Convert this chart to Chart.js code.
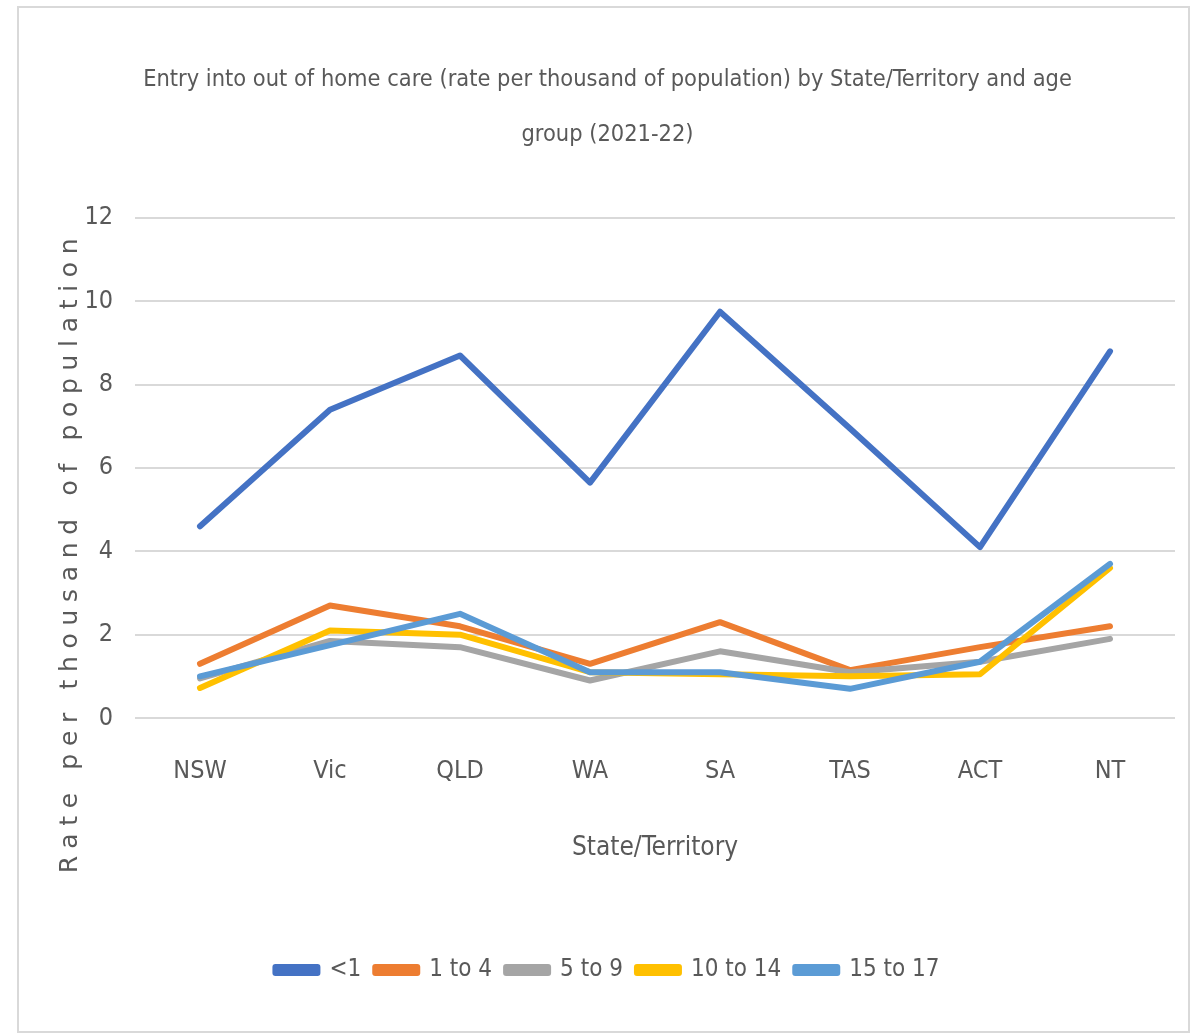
<!DOCTYPE html>
<html>
<head>
<meta charset="utf-8">
<script src="https://cdn.jsdelivr.net/npm/chart.js@4.4.1/dist/chart.umd.min.js"></script>
<style>
    html, body { margin: 0; padding: 0; background: #ffffff; }
    #wrap { width: 1191px; height: 1034px; }
</style>
</head>
<body>
<div id="wrap"><canvas id="chart" width="1191" height="1034"></canvas></div>
<script>
const states = [ 'NSW', 'Vic', 'QLD', 'WA', 'SA', 'TAS', 'ACT', 'NT' ];
const under1 = [ 4.6, 7.4, 8.7, 5.65, 9.75, 6.95, 4.1, 8.8 ];
const age1to4 = [ 1.3, 2.7, 2.2, 1.3, 2.3, 1.15, 1.7, 2.2 ];
const age5to9 = [ 0.95, 1.85, 1.7, 0.9, 1.6, 1.1, 1.35, 1.9 ];
const age10to14 = [ 0.72, 2.1, 2.0, 1.1, 1.05, 1.0, 1.05, 3.6 ];
const age15to17 = [ 1.0, 1.75, 2.5, 1.1, 1.1, 0.7, 1.35, 3.7 ];
const yTicks = [ 0, 2, 4, 6, 8, 10, 12 ];

const textColor = '#595959';
const narrow = "'Liberation Sans Narrow', 'DejaVu Sans Condensed', 'Liberation Sans', sans-serif";

// frame round the chart and the rotated y axis title
const decor = {
    id: 'decor',
    beforeDraw( chart )
    {
        const c = chart.ctx;
        c.save();
        c.strokeStyle = '#d9d9d9';
        c.lineWidth = 2;
        c.strokeRect( 18, 7, 1171, 1025 );
        c.restore();
    },
    afterDraw( chart )
    {
        const c = chart.ctx;
        const label = 'Rate per thousand of population';
        c.save();
        c.font = "25px 'DejaVu Sans', sans-serif";
        c.fillStyle = textColor;
        const w = c.measureText( label ).width;
        c.letterSpacing = Math.max( 0, ( 635 - w ) / ( label.length - 1 ) ) + 'px';
        c.translate( 70, 552 );
        c.rotate( -Math.PI / 2 );
        c.textAlign = 'center';
        c.textBaseline = 'middle';
        c.fillText( label, 0, 0 );
        c.restore();
    }
};

function series( label, data, color, order )
{
    return {
        label: label,
        data: data,
        borderColor: color,
        backgroundColor: color,
        borderWidth: 6,
        pointRadius: 0,
        pointHoverRadius: 0,
        borderJoinStyle: 'round',
        borderCapStyle: 'round',
        tension: 0,
        order: order
    };
}

new Chart( document.getElementById( 'chart' ), {
    type: 'line',
    data: {
        labels: states,
        datasets: [
            series( '<1', under1, '#4472C4', 5 ),
            series( '1 to 4', age1to4, '#ED7D31', 4 ),
            series( '5 to 9', age5to9, '#A5A5A5', 3 ),
            series( '10 to 14', age10to14, '#FFC000', 2 ),
            series( '15 to 17', age15to17, '#5B9BD5', 1 )
        ]
    },
    options: {
        responsive: false,
        animation: false,
        devicePixelRatio: 1,
        layout: { padding: { left: 40, right: 16, top: 0, bottom: 42 } },
        plugins: {
            tooltip: { enabled: false },
            title: {
                display: true,
                text: [ 'Entry into out of home care (rate per thousand of population) by State/Territory and age', 'group (2021-22)' ],
                color: textColor,
                font: { family: narrow, size: 23.4, weight: 'normal', lineHeight: 2.35 },
                padding: { top: 52, bottom: 56 }
            },
            legend: {
                position: 'bottom',
                labels: {
                    color: textColor,
                    font: { family: narrow, size: 24 },
                    boxWidth: 42,
                    boxHeight: 6,
                    padding: 14,
                    sort: ( a, b ) => a.datasetIndex - b.datasetIndex
                }
            }
        },
        scales: {
            x: {
                offset: true,
                grid: { display: false, drawTicks: false },
                border: { display: false },
                ticks: { color: textColor, font: { family: narrow, size: 25 }, padding: 38 },
                title: {
                    display: true,
                    text: 'State/Territory',
                    color: textColor,
                    font: { family: narrow, size: 26 },
                    padding: { top: 0, bottom: 80 }
                },
                afterFit: s => { s.height = 226; }
            },
            y: {
                min: 0,
                max: 12,
                afterBuildTicks: s => { s.ticks = yTicks.map( v => ( { value: v } ) ); },
                grid: { color: '#d9d9d9', lineWidth: 2, drawTicks: false },
                border: { display: false },
                ticks: { color: textColor, font: { family: narrow, size: 25 }, padding: 22 },
                afterFit: s => { s.width = 95; }
            }
        }
    },
    plugins: [ decor ]
} );
</script>
</body>
</html>
